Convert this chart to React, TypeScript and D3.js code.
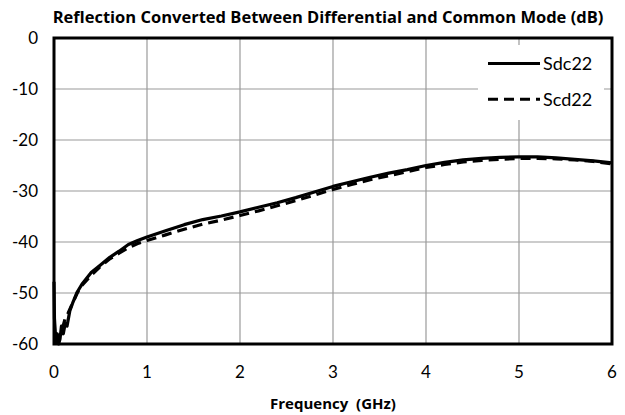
import * as d3 from "d3";

// frequency axis (GHz) and series values (dB)
const sdcFreq = [0, 0.005, 0.02, 0.035, 0.05, 0.065, 0.08, 0.1, 0.12, 0.14, 0.17, 0.2, 0.25, 0.3, 0.4, 0.5, 0.6, 0.7, 0.8, 0.9, 1.0, 1.2, 1.4, 1.6, 1.8, 2.0, 2.2, 2.4, 2.6, 2.8, 3.0, 3.2, 3.4, 3.6, 3.8, 4.0, 4.2, 4.4, 4.6, 4.8, 5.0, 5.2, 5.4, 5.6, 5.8, 6.0];
const sdc22 = [-47.8, -55, -59.5, -58, -60, -59, -56.5, -58, -56, -56.5, -53.5, -52, -49.8, -48.3, -46, -44.5, -43, -41.8, -40.5, -39.7, -39, -37.8, -36.6, -35.6, -34.9, -34.1, -33.2, -32.3, -31.3, -30.2, -29.1, -28.2, -27.3, -26.5, -25.8, -25.0, -24.4, -23.9, -23.6, -23.4, -23.3, -23.3, -23.5, -23.8, -24.1, -24.5];

const scdFreq = [0.03, 0.06, 0.09, 0.12, 0.15, 0.2, 0.25, 0.3, 0.4, 0.5, 0.6, 0.7, 0.8, 0.9, 1.0, 1.2, 1.4, 1.6, 1.8, 2.0, 2.2, 2.4, 2.6, 2.8, 3.0, 3.2, 3.4, 3.6, 3.8, 4.0, 4.2, 4.4, 4.6, 4.8, 5.0, 5.2, 5.4, 5.6, 5.8, 6.0];
const scd22 = [-60, -58, -57, -55, -54, -52, -50, -48.5, -46.5, -44.8, -43.3, -42.2, -41.1, -40.3, -39.7, -38.6, -37.5, -36.5, -35.7, -34.8, -33.9, -32.9, -31.9, -30.8, -29.7, -28.7, -27.8, -27.0, -26.2, -25.4, -24.8, -24.3, -24.0, -23.8, -23.6, -23.6, -23.7, -23.9, -24.2, -24.7];

const xTicks = [0, 1, 2, 3, 4, 5, 6];
const yTicks = [0, -10, -20, -30, -40, -50, -60];

const title = "Reflection Converted Between Differential and Common Mode (dB)";
const xLabel = "Frequency  (GHz)";
const seriesNames = ["Sdc22", "Scd22"];

const W = 625;
const H = 415;
const margin = { top: 38, right: 13, bottom: 71, left: 54 };
const font = "Lato, 'Open Sans', sans-serif";
const boldFont = "'Open Sans', Lato, sans-serif";

export default function App() {
  const x = d3.scaleLinear().domain([0, 6]).range([margin.left, W - margin.right]);
  const y = d3.scaleLinear().domain([-60, 0]).range([H - margin.bottom, margin.top]);

  const line = d3
    .line<[number, number]>()
    .x(d => x(d[0]))
    .y(d => y(d[1]))
    .curve(d3.curveLinear);

  const sdcPts = sdcFreq.map((f, i) => [f, sdc22[i]] as [number, number]);
  const scdPts = scdFreq.map((f, i) => [f, scd22[i]] as [number, number]);

  const legendY = [y(-5), y(-12)];

  return (
    <>
      <style>{`body{margin:0}`}</style>
      <svg width={W} height={H} style={{ display: "block", background: "#fff" }}>
        <text x={328} y={23} textAnchor="middle" fontFamily={boldFont} fontWeight="bold" fontSize={16.5}>
          {title}
        </text>

        {/* grid */}
        {xTicks.map(t => (
          <line key={"gx" + t} x1={x(t)} x2={x(t)} y1={y(0)} y2={y(-60)} stroke="#9a9a9a" strokeWidth={1.2} />
        ))}
        {yTicks.map(t => (
          <line key={"gy" + t} x1={x(0)} x2={x(6)} y1={y(t)} y2={y(t)} stroke="#9a9a9a" strokeWidth={1.2} />
        ))}

        {/* legend background */}
        <rect x={478} y={45} width={126} height={75} fill="#fff" />

        <path d={line(scdPts) ?? ""} fill="none" stroke="#000" strokeWidth={3.2} strokeDasharray="10 6" />
        <path d={line(sdcPts) ?? ""} fill="none" stroke="#000" strokeWidth={3.2} strokeLinejoin="round" />

        {/* plot frame */}
        <rect x={x(0)} y={y(0)} width={x(6) - x(0)} height={y(-60) - y(0)} fill="none" stroke="#000" strokeWidth={3} />

        {/* y tick labels */}
        {yTicks.map(t => (
          <text key={"ty" + t} x={38} y={y(t)} dy="0.35em" textAnchor="end" fontFamily={font} fontSize={17}>
            {t}
          </text>
        ))}
        {/* x tick labels */}
        {xTicks.map(t => (
          <text key={"tx" + t} x={x(t)} y={378} textAnchor="middle" fontFamily={font} fontSize={17}>
            {t}
          </text>
        ))}
        <text x={333} y={409} textAnchor="middle" fontFamily={boldFont} fontWeight="bold" fontSize={15} style={{ whiteSpace: "pre" }}>
          {xLabel}
        </text>

        {/* legend */}
        {seriesNames.map((name, i) => (
          <g key={name}>
            <line
              x1={488}
              x2={540}
              y1={legendY[i]}
              y2={legendY[i]}
              stroke="#000"
              strokeWidth={3}
              strokeDasharray={i === 1 ? "10 6" : undefined}
            />
            <text x={543} y={legendY[i]} dy="0.35em" fontFamily={font} fontSize={18}>
              {name}
            </text>
          </g>
        ))}
      </svg>
    </>
  );
}
